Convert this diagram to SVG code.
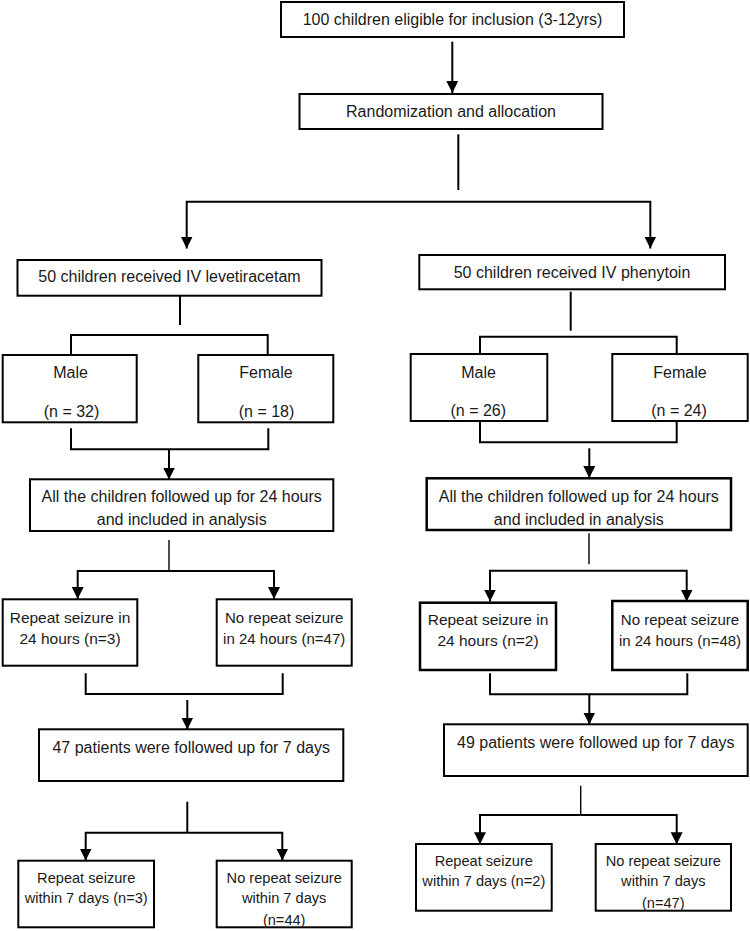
<svg xmlns="http://www.w3.org/2000/svg" width="750" height="931" viewBox="0 0 750 931">
<defs>
<marker id="ah" markerUnits="userSpaceOnUse" markerWidth="12" markerHeight="12" refX="12" refY="6" orient="auto">
<path d="M0,0 L12,6 L0,12 z" fill="#000"/>
</marker>
<style>
rect{fill:#fff;stroke:#000;stroke-width:2}
text{font-family:"Liberation Sans",Arial,sans-serif;font-size:16px;fill:#1a1a1a;text-anchor:middle}
text.s{font-size:14.6px}
text.m{font-size:15.5px}
text.n{font-size:15px}
#connectors path{fill:none;stroke:#000;stroke-width:2}
#connectors path.a{marker-end:url(#ah)}
#connectors path.t{stroke-width:1.4}
</style>
</defs>
<rect x="0" y="0" width="750" height="931" style="fill:#fff;stroke:none"/>
<g id="connectors">
<path class="a" d="M452.3,41.7 V93"/>
<path d="M458.3,134.3 V190"/>
<path class="a" d="M458,201.7 H186.7 V248.5"/>
<path class="a" d="M458,201.7 H650.3 V248.5"/>
<path d="M180,295.7 V325"/>
<path d="M71,355 V335 H267.7 V355"/>
<path d="M570.7,291.7 V330.7"/>
<path d="M480,354 V336.7 H676.7 V354"/>
<path d="M71,428.3 V449.3 H268.3 V428.3"/>
<path class="a" d="M169,449.3 V479.5"/>
<path d="M480,421 V442.3 H676.7 V421"/>
<path class="a" d="M589.3,448.3 V478"/>
<path class="t" d="M169,540 V571"/>
<path class="a" d="M169,571 H77.7 V599"/>
<path class="a" d="M169,571 H274 V599"/>
<path class="t" d="M589,533.3 V564.3"/>
<path class="a" d="M589,570.7 H490 V601.5"/>
<path class="a" d="M589,570.7 H686.7 V601.5"/>
<path d="M85.7,673.3 V694 H282.7 V673.3"/>
<path class="a" d="M187.3,700 V729.5"/>
<path d="M490,673.3 V694.3 H687.3 V673.3"/>
<path class="a" d="M589.3,694.3 V724.5"/>
<path d="M187.3,801.7 V832.7"/>
<path class="a" d="M187.3,832.7 H85.7 V860.5"/>
<path class="a" d="M187.3,832.7 H282.3 V860.5"/>
<path class="t" d="M580.7,785.7 V815"/>
<path class="a" d="M580.7,815 H480 V844.3"/>
<path class="a" d="M580.7,815 H676.7 V844.3"/>
</g>
<g id="n_top"><rect x="281" y="2" width="343" height="35"/><text x="452.5" y="25">100 children eligible for inclusion (3-12yrs)</text></g>
<g id="n_rand"><rect x="299.5" y="94" width="303" height="35"/><text x="451" y="116.5">Randomization and allocation</text></g>
<g id="n_lev"><rect x="17.5" y="260" width="304" height="35.7"/><text x="169.5" y="282">50 children received IV levetiracetam</text></g>
<g id="n_phe"><rect x="419.3" y="255" width="305.7" height="34.3"/><text x="572" y="277.5">50 children received IV phenytoin</text></g>
<g id="n_lmale"><rect x="2.7" y="355" width="134" height="67.3"/><text x="70.5" y="377.5">Male</text><text x="71.5" y="416.5">(n = 32)</text></g>
<g id="n_lfemale"><rect x="198.3" y="355" width="135" height="67.3"/><text x="266" y="377.5">Female</text><text x="266.5" y="416.5">(n = 18)</text></g>
<g id="n_rmale"><rect x="410.7" y="354" width="136.6" height="67"/><text x="478.5" y="377.5">Male</text><text x="478.3" y="416">(n = 26)</text></g>
<g id="n_rfemale"><rect x="612.3" y="354" width="135.4" height="67"/><text x="680" y="377.5">Female</text><text x="679" y="416">(n = 24)</text></g>
<g id="n_lall"><rect x="30" y="479.3" width="303.3" height="51.7"/><text x="181.7" y="502">All the children followed up for 24 hours</text><text x="181.7" y="525.3">and included in analysis</text></g>
<g id="n_rall"><rect x="426.7" y="478.3" width="304.3" height="51.7" style="stroke-width:2.5"/><text x="578.8" y="502">All the children followed up for 24 hours</text><text x="578.8" y="525.3">and included in analysis</text></g>
<g id="n_lrep24"><rect x="2.7" y="599.3" width="134.6" height="66.4"/><text class="m" x="70" y="622.5">Repeat seizure in</text><text class="m" x="70" y="644">24 hours (n=3)</text></g>
<g id="n_lnorep24"><rect x="216.7" y="599.3" width="135" height="66.4"/><text class="n" x="284.2" y="622.5">No repeat seizure</text><text class="n" x="284.2" y="644">in 24 hours (n=47)</text></g>
<g id="n_rrep24"><rect x="420" y="602.7" width="136" height="67.3" style="stroke-width:2.5"/><text class="m" x="488" y="625">Repeat seizure in</text><text class="m" x="488" y="646">24 hours (n=2)</text></g>
<g id="n_rnorep24"><rect x="612.3" y="601" width="135.4" height="69" style="stroke-width:2.5"/><text class="n" x="680" y="625">No repeat seizure</text><text class="n" x="680" y="646">in 24 hours (n=48)</text></g>
<g id="n_l7"><rect x="39" y="729.3" width="304.3" height="51.7"/><text x="191.2" y="752.5">47 patients were followed up for 7 days</text></g>
<g id="n_r7"><rect x="444" y="724.3" width="303.7" height="51.7"/><text x="595.8" y="747.5">49 patients were followed up for 7 days</text></g>
<g id="n_lrep7"><rect x="18.3" y="860.7" width="135.7" height="66.6"/><text class="s" x="86.2" y="883">Repeat seizure</text><text class="s" x="86.2" y="903">within 7 days (n=3)</text></g>
<g id="n_lnorep7"><rect x="216.7" y="860.7" width="135" height="66.6"/><text class="s" x="284.2" y="883">No repeat seizure</text><text class="s" x="284.2" y="903">within 7 days</text><text class="s" x="284.2" y="925">(n=44)</text></g>
<g id="n_rrep7"><rect x="416" y="844" width="135.7" height="66.7"/><text class="s" x="483.8" y="866">Repeat seizure</text><text class="s" x="483.8" y="886">within 7 days (n=2)</text></g>
<g id="n_rnorep7"><rect x="595.7" y="844" width="135.3" height="66.7"/><text class="s" x="663.3" y="866">No repeat seizure</text><text class="s" x="663.3" y="886">within 7 days</text><text class="s" x="663.3" y="907.5">(n=47)</text></g>
</svg>
